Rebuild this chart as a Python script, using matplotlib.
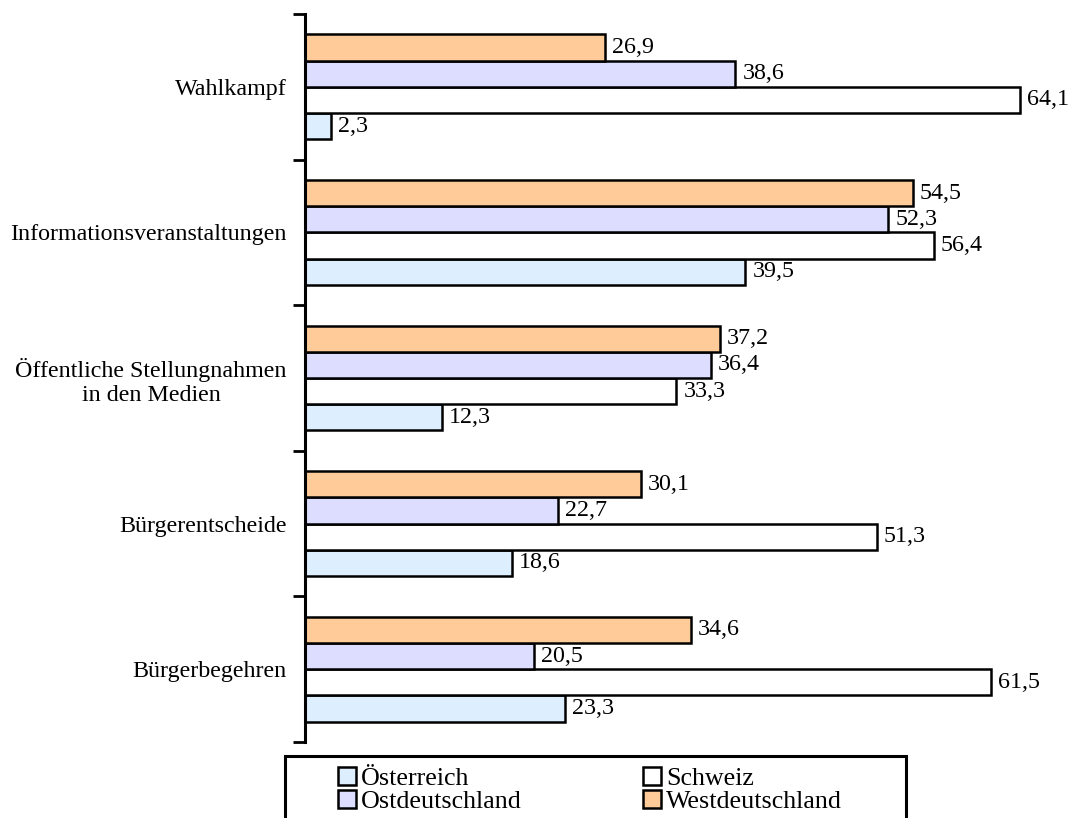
import numpy as np
import matplotlib.pyplot as plt
from matplotlib.patches import Rectangle

plt.rcParams['font.family'] = ['Liberation Serif', 'DejaVu Serif']

categories = ["Wahlkampf", "Informationsveranstaltungen",
              "Öffentliche Stellungnahmen\nin den Medien",
              "Bürgerentscheide", "Bürgerbegehren"]
series = ["Österreich", "Schweiz", "Ostdeutschland", "Westdeutschland"]
oesterreich = [2.3, 39.5, 12.3, 18.6, 23.3]
schweiz = [64.1, 56.4, 33.3, 51.3, 61.5]
ostdeutschland = [38.6, 52.3, 36.4, 22.7, 20.5]
westdeutschland = [26.9, 54.5, 37.2, 30.1, 34.6]
colors = ["#DDEEFF", "#FFFFFF", "#DDDDFF", "#FFCC99"]

values = [oesterreich, schweiz, ostdeutschland, westdeutschland]

fig = plt.figure(figsize=(10.74, 8.18), dpi=100)
ax = fig.add_axes([305 / 1074, 1 - 742 / 818, 1 - 305 / 1074 - 0.01, (742 - 14) / 818])

y = np.arange(len(categories))[::-1].astype(float)
h = 0.18
offsets = [-1.5 * h, -0.5 * h, 0.5 * h, 1.5 * h]

handles = {}
for vals, name, col, off in zip(values, series, colors, offsets):
    bars = ax.barh(y + off, vals, height=h, color=col, edgecolor="black",
                   linewidth=1.8, label=name)
    handles[name] = bars
    for yy, v in zip(y + off, vals):
        ax.annotate(f"{v:.1f}".replace(".", ","), (v, yy), xytext=(5, 0),
                    textcoords="offset points", va="center", ha="left",
                    fontsize=17.3)

ax.set_xlim(0, 68)
ax.set_ylim(-0.5, len(categories) - 0.5)
ax.set_xticks([])
ax.set_yticks(y)
ax.set_yticklabels(categories, fontsize=17.3, multialignment="center",
                   linespacing=1.2)
ax.set_yticks(np.arange(-0.5, len(categories), 1.0), minor=True)
ax.tick_params(axis="y", which="major", length=0, pad=13)
ax.tick_params(axis="y", which="minor", length=9, width=2, direction="out")
for s in ["top", "right", "bottom"]:
    ax.spines[s].set_visible(False)
ax.spines["left"].set_linewidth(2.2)

# legend box, runs off the bottom of the picture
fig.patches.append(Rectangle((285 / 1074, -0.05), (906 - 285) / 1074,
                             0.05 + 1 - 756 / 818, transform=fig.transFigure,
                             fill=False, edgecolor="black", linewidth=2.2))
order = ["Österreich", "Ostdeutschland", "Schweiz", "Westdeutschland"]
fig.legend(handles=[handles[n] for n in order], labels=order, ncol=2,
           frameon=False, loc="upper left",
           bbox_to_anchor=(338 / 1074, 1 - 767 / 818),
           fontsize=18.7, handlelength=0.7, handleheight=0.7,
           handletextpad=0.2, columnspacing=4.65, labelspacing=0.0,
           borderpad=0, borderaxespad=0)

fig.savefig("out.png", dpi=100)
